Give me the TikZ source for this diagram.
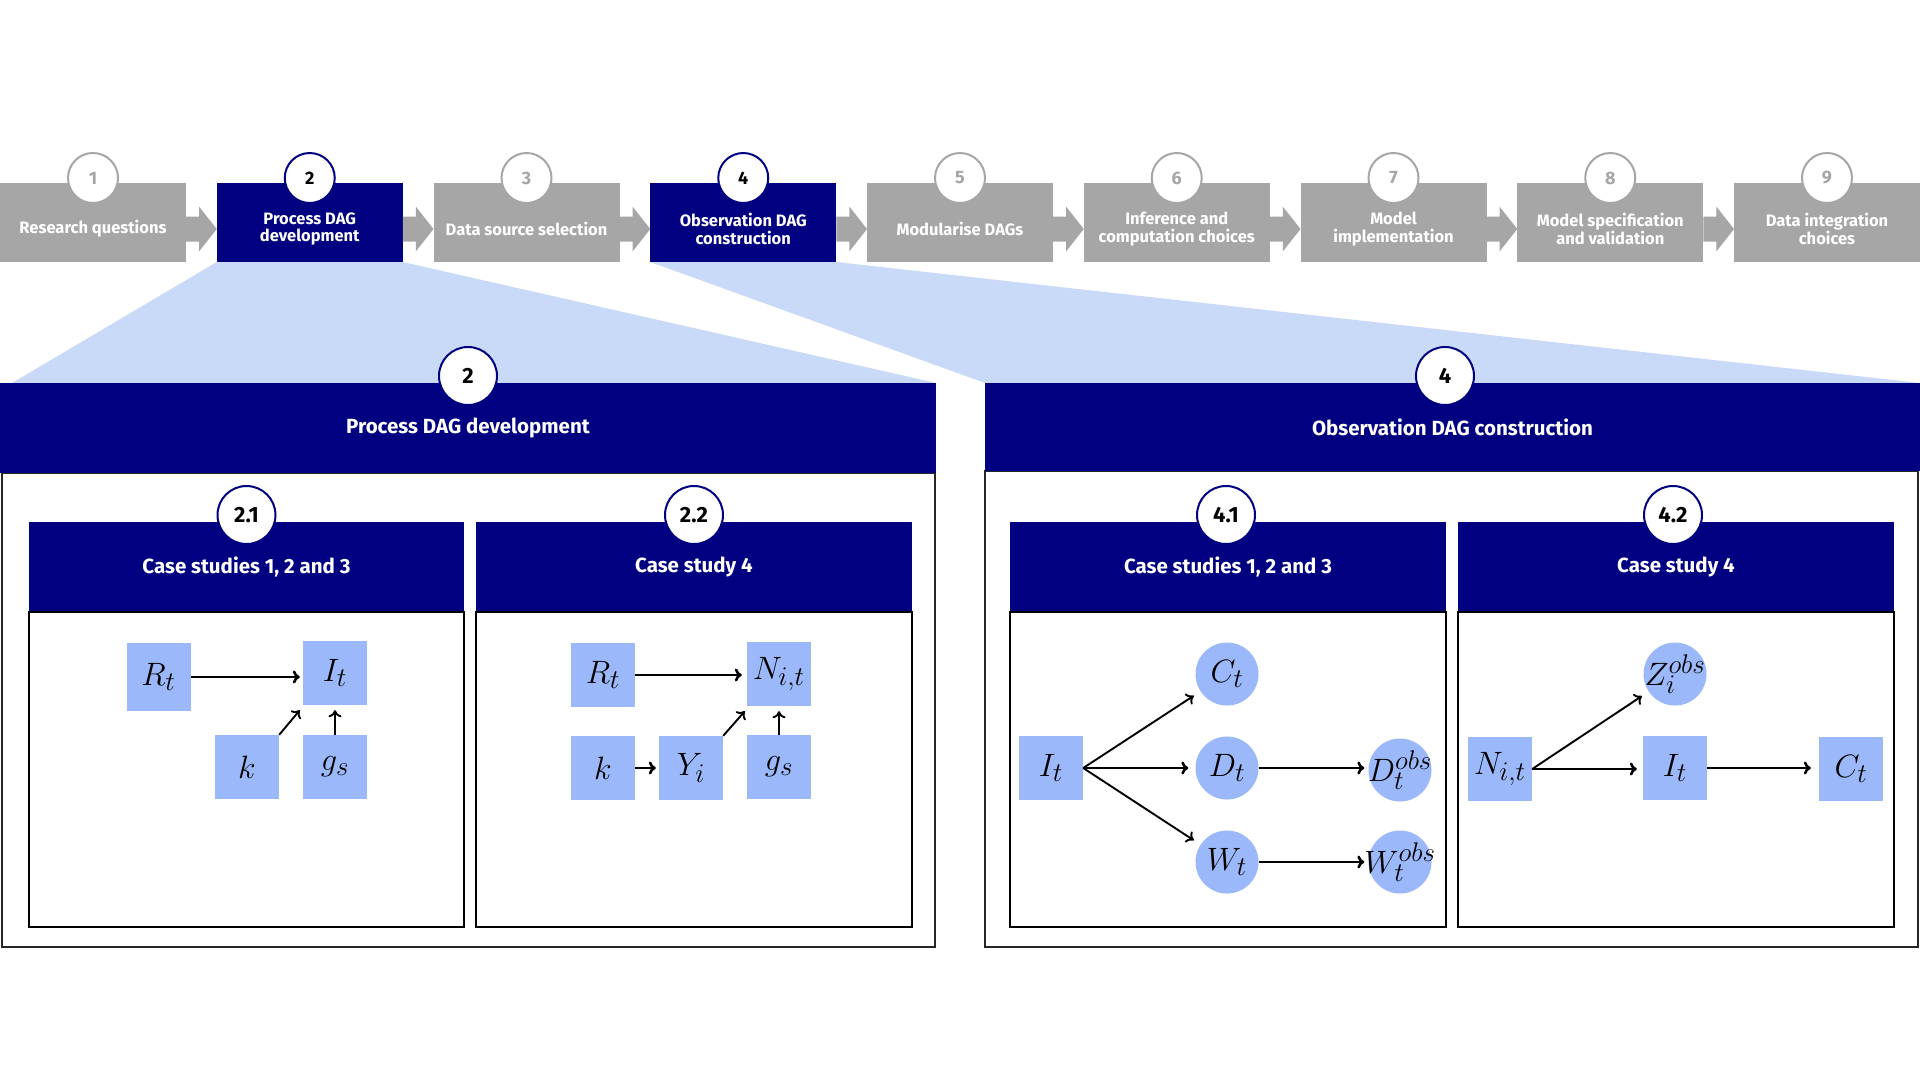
\documentclass[tikz,border=0pt]{standalone}
\usepackage{fontspec}
\setmainfont{Fira Sans}
\usetikzlibrary{arrows.meta,calc,backgrounds}

\definecolor{stagegray}{HTML}{A6A6A6}
\definecolor{deepnavy}{HTML}{000080}
\definecolor{zoomblue}{HTML}{C9DAF8}
\definecolor{nodeblue}{HTML}{9BB9FA}

% DAG variables: math set at \Huge and enlarged
\newcommand{\dagvar}[1]{\scalebox{1.3}{$#1$}}

\tikzset{
  stagebox/.style={rectangle, fill=stagegray, minimum width=186pt, minimum height=79pt, inner sep=0pt, outer sep=0pt},
  activebox/.style={stagebox, fill=deepnavy},
  stagetext/.style={text=white, font=\fontsize{16.5}{17.5}\selectfont\bfseries, align=center, inner sep=0pt},
  badge/.style={circle, fill=white, draw=stagegray, line width=2pt, minimum size=50pt, inner sep=0pt, text=stagegray, font=\fontsize{18}{18}\selectfont\bfseries},
  activebadge/.style={badge, draw=deepnavy, text=black},
  bigbadge/.style={circle, fill=white, draw=deepnavy, line width=2pt, minimum size=58pt, inner sep=0pt, font=\fontsize{22}{22}\selectfont\bfseries},
  caseheader/.style={rectangle, fill=deepnavy, text=white, inner sep=0pt, outer sep=0pt, anchor=north west, font=\fontsize{20.5}{20.5}\selectfont\bfseries},
  panelframe/.style={rectangle, draw=black!85, line width=2pt, fill=white, inner sep=0pt, outer sep=0pt, anchor=north west},
  casebody/.style={rectangle, draw=black, line width=1.6pt, fill=white, inner sep=0pt, outer sep=0pt, anchor=north west},
  varbox/.style={rectangle, fill=nodeblue, minimum width=64pt, minimum height=64pt, inner sep=0pt, font=\Huge},
  obsnode/.style={circle, fill=nodeblue, minimum size=63pt, inner sep=0pt, font=\Huge},
  dagarrow/.style={line width=2.6pt, -{To[length=7pt,width=13pt]}},
  thinlink/.style={line width=1.9pt, -{To[length=7pt,width=13pt]}},
}

\begin{document}
\begin{tikzpicture}[x=1pt,y=-1pt]
\useasboundingbox (0,0) rectangle (1920,1080);

% ---------- workflow stages ----------
\node[stagebox]  (s1) at (93,222.5) {};
\node[activebox] (s2) at (309.75,222.5) {};
\node[stagebox]  (s3) at (526.5,222.5) {};
\node[activebox] (s4) at (743.25,222.5) {};
\node[stagebox]  (s5) at (960,222.5) {};
\node[stagebox]  (s6) at (1176.75,222.5) {};
\node[stagebox]  (s7) at (1393.5,222.5) {};
\node[stagebox]  (s8) at (1610.25,222.5) {};
\node[stagebox]  (s9) at (1827,222.5) {};

\foreach \i/\j in {1/2,2/3,3/4,4/5,5/6,6/7,7/8,8/9}
  \fill[stagegray] ($(s\i.east)+(0,-6)$) -- ++(13,0) -- ++(0,-10)
    -- ($(s\j.west)+(0,6.5)$) -- ($(s\i.east)+(13,29)$) -- ++(0,-10)
    -- ($(s\i.east)+(0,19)$) -- cycle;

\node[stagetext] (t1) at (93,229) {Research questions};
\node[stagetext] (t2) at (309.75,229) {Process DAG\\development};
\node[stagetext] (t3) at (526.5,229) {Data source selection};
\node[stagetext] (t4) at (743.25,229) {Observation DAG\\construction};
\node[stagetext] (t5) at (960,229) {Modularise DAGs};
\node[stagetext] (t6) at (1176.75,229) {Inference and\\computation choices};
\node[stagetext] (t7) at (1393.5,229) {Model\\implementation};
\node[stagetext] (t8) at (1610.25,229) {Model specification\\and validation};
\node[stagetext] (t9) at (1827,229) {Data integration\\choices};

\node[badge]       (n1) at ($(s1.north)+(0,-5)$) {1};
\node[activebadge] (n2) at ($(s2.north)+(0,-5)$) {2};
\node[badge]       (n3) at ($(s3.north)+(0,-5)$) {3};
\node[activebadge] (n4) at ($(s4.north)+(0,-5)$) {4};
\node[badge]       (n5) at ($(s5.north)+(0,-5)$) {5};
\node[badge]       (n6) at ($(s6.north)+(0,-5)$) {6};
\node[badge]       (n7) at ($(s7.north)+(0,-5)$) {7};
\node[badge]       (n8) at ($(s8.north)+(0,-5)$) {8};
\node[badge]       (n9) at ($(s9.north)+(0,-5)$) {9};

% ---------- step 2: process DAG development ----------
\node[panelframe, minimum width=933pt, minimum height=474pt] (p2f) at (2,473) {};
\node[caseheader, minimum width=936pt, minimum height=90pt] (p2h) at (0,383) {Process DAG development};
\node[bigbadge] (p2b) at ($(p2h.north)+(0,-7)$) {2};

\node[caseheader, minimum width=435pt, minimum height=90pt] (h21) at (29,522) {Case studies 1, 2 and 3};
\node[casebody, minimum width=435pt, minimum height=315pt] (b21) at (29,612) {};
\node[bigbadge] (c21) at ($(h21.north)+(0,-7)$) {2.1};

\node[caseheader, minimum width=436pt, minimum height=90pt] (h22) at (476,522) {Case study 4};
\node[casebody, minimum width=436pt, minimum height=315pt] (b22) at (476,612) {};
\node[bigbadge] (c22) at ($(h22.north)+(0,-7)$) {2.2};

% ---------- step 4: observation DAG construction ----------
\node[panelframe, minimum width=933pt, minimum height=476pt] (p4f) at (985,471) {};
\node[caseheader, minimum width=935pt, minimum height=88pt] (p4h) at (985,383) {Observation DAG construction};
\node[bigbadge] (p4b) at ($(p4h.north)+(-7.5,-7)$) {4};

\node[caseheader, minimum width=436pt, minimum height=90pt] (h41) at (1010,522) {Case studies 1, 2 and 3};
\node[casebody, minimum width=436pt, minimum height=315pt] (b41) at (1010,612) {};
\node[bigbadge] (c41) at ($(h41.north)+(-2,-7)$) {4.1};

\node[caseheader, minimum width=436pt, minimum height=90pt] (h42) at (1458,522) {Case study 4};
\node[casebody, minimum width=436pt, minimum height=315pt] (b42) at (1458,612) {};
\node[bigbadge] (c42) at ($(h42.north)+(-3,-7)$) {4.2};

% zoom wedges behind everything
\begin{scope}[on background layer]
  \fill[white] (0,0) rectangle (1920,1080);
  \fill[zoomblue] (s2.south west) -- (s2.south east) -- (p2h.north east) -- ($(p2h.north west)+(12,0)$) -- cycle;
  \fill[zoomblue] (s4.south west) -- (s4.south east) -- (p4h.north east) -- (p4h.north west) -- cycle;
\end{scope}

% ---------- DAG 2.1 ----------
\node[varbox, minimum height=68pt] (a-R) at (158.5,677) {\dagvar{R_t}};
\node[varbox] (a-I) at (335,673) {\dagvar{I_t}};
\node[varbox] (a-k) at (247,767) {\dagvar{k}};
\node[varbox] (a-g) at (335,767) {\dagvar{g_s}};
\draw[dagarrow, shorten >=3pt] (a-R.east) -- (a-R.east -| a-I.west);
\draw[thinlink] (a-k.north east) -- ($(a-I.south west)+(-3,5)$);
\draw[thinlink] (a-g.north) -- ($(a-I.south)+(0,5)$);

% ---------- DAG 2.2 ----------
\node[varbox] (b-R) at (603,675) {\dagvar{R_t}};
\node[varbox] (b-N) at (779,674) {\dagvar{N_{i,t}}};
\node[varbox] (b-k) at (603,768) {\dagvar{k}};
\node[varbox] (b-Y) at (691,768) {\dagvar{Y_i}};
\node[varbox] (b-g) at (779,767) {\dagvar{g_s}};
\draw[dagarrow, shorten >=5pt] (b-R.east) -- (b-R.east -| b-N.west);
\draw[dagarrow, shorten >=3pt] (b-k.east) -- (b-k.east -| b-Y.west);
\draw[thinlink] (b-Y.north east) -- ($(b-N.south west)+(-2,5)$);
\draw[thinlink] (b-g.north) -- ($(b-N.south)+(0,5)$);

% ---------- DAG 4.1 ----------
\node[varbox] (c-I) at (1051,768) {\dagvar{I_t}};
\node[obsnode] (c-C) at (1227,674) {\makebox[0pt]{\dagvar{C_t}}};
\node[obsnode] (c-D) at (1227,768) {\makebox[0pt]{\dagvar{D_t}}};
\node[obsnode] (c-Do) at (1400,770) {\makebox[0pt]{\dagvar{D_t^{obs}}}};
\node[obsnode] (c-W) at (1227,862) {\makebox[0pt]{\dagvar{W_t}}};
\node[obsnode] (c-Wo) at (1400,862) {\makebox[0pt]{\dagvar{W_t^{obs}}}};
\draw[thinlink, shorten >=8pt] (c-I.east) -- (c-C);
\draw[dagarrow, shorten >=7pt] (c-I.east) -- (c-I.east -| c-D.west);
\draw[thinlink, shorten >=8pt] (c-I.east) -- (c-W);
\draw[dagarrow, shorten >=4pt] (c-D.east) -- (c-D.east -| c-Do.west);
\draw[dagarrow, shorten >=4pt] (c-W.east) -- (c-Wo.west);

% ---------- DAG 4.2 ----------
\node[varbox] (d-N) at (1500,769) {\dagvar{N_{i,t}}};
\node[obsnode] (d-Z) at (1675,674) {\makebox[0pt]{\dagvar{Z_i^{obs}}}};
\node[varbox] (d-I) at (1675,768) {\dagvar{I_t}};
\node[varbox] (d-C) at (1851,769) {\dagvar{C_t}};
\draw[thinlink, shorten >=8pt] (d-N.east) -- (d-Z);
\draw[dagarrow, shorten >=6pt] (d-N.east) -- (d-N.east -| d-I.west);
\draw[dagarrow, shorten >=8pt] (d-I.east) -- (d-I.east -| d-C.west);

\end{tikzpicture}
\end{document}
